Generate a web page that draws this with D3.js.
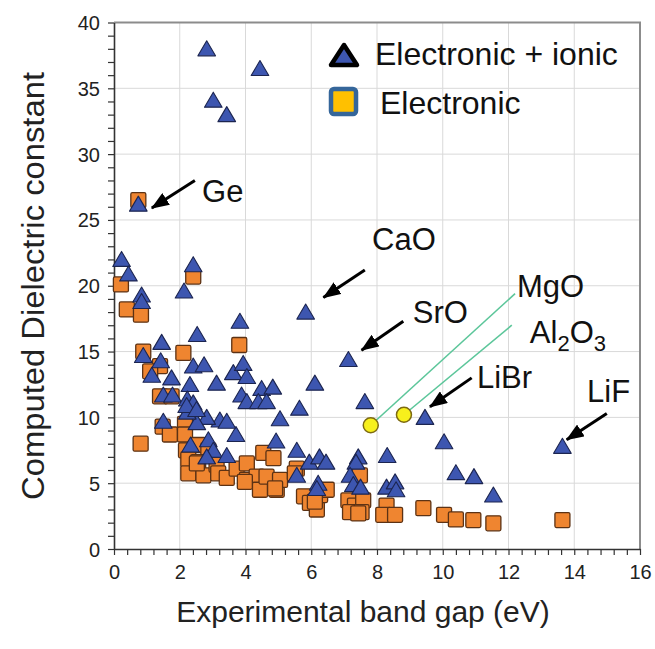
<!DOCTYPE html>
<html><head><meta charset="utf-8">
<script src="https://cdn.jsdelivr.net/npm/d3@7"></script>
<style>html,body{margin:0;padding:0;background:#fff}svg{display:block}</style>
</head><body>
<svg id="c" width="655" height="649"></svg>
<script>
// ---------- data ----------
const xTicks = [0, 2, 4, 6, 8, 10, 12, 14, 16];
const yTicks = [0, 5, 10, 15, 20, 25, 30, 35, 40];
const xLabel = "Experimental band gap (eV)";
const yLabel = "Computed Dielectric constant";
const seriesNames = ["Electronic + ionic", "Electronic"];

// Electronic + ionic (triangles): [band gap, dielectric constant]
const ionicPoints = [
  [2.82,38.0],[4.44,36.5],[3.02,34.1],[3.43,33.0],[0.74,26.2],
  [0.23,22.0],[0.44,20.9],[0.84,19.3],[0.84,18.8],[2.41,21.6],[2.13,19.6],
  [2.53,16.3],[3.83,17.3],[5.83,18.0],[7.13,14.4],[6.11,12.6],[7.63,11.2],[5.64,10.7],
  [1.45,15.7],[0.89,14.7],[1.42,14.3],[1.15,13.2],[1.75,13.0],[2.41,13.9],[2.74,14.0],
  [2.31,12.5],[3.12,12.6],[3.63,13.4],[3.93,14.1],[4.04,13.1],[1.50,11.7],[1.78,11.7],
  [2.23,11.4],[2.41,11.1],[3.88,11.7],[4.04,11.2],[4.49,12.2],[4.83,12.3],[4.39,11.2],[4.64,11.2],
  [5.05,9.9],[4.93,8.2],[3.71,8.7],[3.22,9.8],[3.43,9.7],[2.82,10.0],[2.52,9.6],[2.23,10.4],
  [2.21,10.9],[2.51,10.6],[1.50,9.7],[2.33,7.9],[2.87,8.3],[3.02,7.5],[2.82,7.0],[3.43,7.1],
  [5.56,7.5],[5.94,6.6],[6.25,7.0],[6.45,6.6],[5.56,5.6],[6.21,5.0],[6.17,4.6],
  [7.43,7.0],[7.36,6.6],[7.18,5.6],[7.28,4.9],[7.50,4.7],[8.31,7.1],[8.29,4.7],[8.55,5.1],[8.58,4.5],
  [9.46,10.0],[10.04,8.15],[10.40,5.8],[10.95,5.5],[11.54,4.1],[13.64,7.8]
];

// Electronic (squares)
const electronicPoints = [
  [0.74,26.5],[0.21,20.1],[0.39,18.2],[0.82,17.8],[2.41,20.7],[3.81,15.5],[0.89,15.0],[2.11,14.9],
  [1.40,13.9],[1.10,13.5],[1.40,11.6],[1.75,11.6],[1.48,9.3],[1.70,8.7],[0.81,8.0],[2.16,9.5],
  [2.19,7.5],[2.16,8.7],[2.56,7.9],[2.87,7.5],[2.26,6.8],[2.56,6.6],
  [2.26,5.75],[2.72,5.6],[2.52,6.5],[3.12,6.4],[3.17,5.75],[3.43,5.4],[3.73,6.1],[4.04,6.5],
  [4.04,5.25],[4.34,5.5],[4.44,4.5],[4.64,5.5],[4.95,4.5],[5.05,5.25],[3.98,5.1],[4.90,4.6],
  [4.54,7.3],[4.85,6.9],[5.56,6.1],[5.50,5.75],[5.78,4.0],[5.96,3.5],[6.17,3.0],[6.27,4.1],[6.47,4.5],[6.11,3.6],
  [7.13,3.7],[7.33,3.3],[7.58,3.7],[7.18,2.8],[7.53,2.8],[7.48,5.6],[7.43,2.7],
  [8.29,3.3],[8.19,2.6],[8.55,2.6],[9.41,3.1],[10.04,2.6],[10.40,2.25],[10.93,2.2],[11.54,1.95],[13.64,2.2]
];

// highlighted materials (yellow circles)
const highlightNames = ["MgO", "Al2O3"];
const highlightPoints = [[7.81,9.4],[8.82,10.2]];
const highlightLabelPos = [[12.26,19.15],[12.65,15.65]];
const highlightLineStart = [[12.2,19.4],[12.1,17.0]];

// arrow annotations: label, label position, arrow start, arrow tip (data units)
const arrowNames = ["Ge", "CaO", "SrO", "LiBr", "LiF"];
const arrowLabelPos = [[2.68,26.4],[7.85,22.7],[9.09,17.2],[11.04,12.2],[14.39,11.2]];
const arrowFrom = [[2.46,28.0],[7.63,21.2],[8.80,17.3],[10.88,13.0],[14.99,10.3]];
const arrowTo = [[1.15,25.9],[6.37,19.1],[7.53,15.1],[9.61,10.8],[13.77,8.3]];

// ---------- drawing ----------
const W = 655, H = 649;
const M = {left:114, right:15, top:22.5, bottom:100};
const FONT = "'Liberation Sans', Arial, Helvetica, sans-serif";
const svg = d3.select("#c");
const x = d3.scaleLinear().domain([0,16]).range([M.left, W - M.right]);
const y = d3.scaleLinear().domain([0,40]).range([H - M.bottom, M.top]);

// gridlines
const grid = svg.append("g");
grid.selectAll("line.v").data(xTicks.slice(1, -1)).join("line")
  .attr("x1", d => x(d)).attr("x2", d => x(d))
  .attr("y1", y(0)).attr("y2", y(40))
  .attr("stroke", "#d9d9d9").attr("stroke-width", 1);
grid.selectAll("line.h").data(yTicks.slice(1, -1)).join("line")
  .attr("x1", x(0)).attr("x2", x(16))
  .attr("y1", d => y(d)).attr("y2", d => y(d))
  .attr("stroke", "#d9d9d9").attr("stroke-width", 1);

// plot border top/right
svg.append("path")
  .attr("d", `M${x(0)},${y(40)}H${x(16)}V${y(0)}`)
  .attr("fill", "none").attr("stroke", "#8c8c8c").attr("stroke-width", 2);

// axes
const xMinor = d3.range(0, 16.0001, 0.4);
const yMinor = d3.range(0, 40.0001, 1);
const isMajor = (d, step) => Math.abs(d / step - Math.round(d / step)) < 1e-6;

const gx = svg.append("g").attr("transform", `translate(0,${y(0)})`)
  .call(d3.axisBottom(x).tickValues(xMinor).tickSize(6).tickSizeOuter(0)
    .tickFormat(d => isMajor(d, 2) ? String(Math.round(d)) : ""));
const gy = svg.append("g").attr("transform", `translate(${x(0)},0)`)
  .call(d3.axisLeft(y).tickValues(yMinor).tickSize(6).tickSizeOuter(0)
    .tickFormat(d => isMajor(d, 5) ? String(Math.round(d)) : ""));
[gx, gy].forEach(g => {
  g.select(".domain").attr("stroke", "#333").attr("stroke-width", 1.6);
  g.selectAll(".tick line").attr("stroke", "#333").attr("stroke-width", 1.2);
  g.selectAll(".tick text").attr("font-family", FONT).attr("font-size", 20).attr("fill", "#222");
});
gx.selectAll(".tick text").attr("dy", "1.05em").attr("y", 9);
gy.selectAll(".tick text").attr("x", -14).attr("dy", "0.35em");

// axis titles
svg.append("text").attr("x", (x(0) + x(16)) / 2 - 14).attr("y", 622)
  .attr("text-anchor", "middle").attr("font-family", FONT).attr("font-size", 30)
  .attr("fill", "#222").text(xLabel);
svg.append("text").attr("transform", `translate(44,${286}) rotate(-90)`)
  .attr("text-anchor", "middle").attr("font-family", FONT).attr("font-size", 31)
  .attr("textLength", 428).attr("lengthAdjust", "spacingAndGlyphs")
  .attr("fill", "#222").text(yLabel);

// markers
const triPath = "M0,-8 L8.8,7 L-8.8,7 Z";
svg.append("g").selectAll("rect").data(electronicPoints).join("rect")
  .attr("x", d => x(d[0]) - 7.5).attr("y", d => y(d[1]) - 7.5)
  .attr("width", 15).attr("height", 15).attr("rx", 1.5)
  .attr("fill", "#ef8530").attr("stroke", "#5c3214").attr("stroke-width", 1.3);
svg.append("g").selectAll("path").data(ionicPoints).join("path")
  .attr("d", triPath)
  .attr("transform", d => `translate(${x(d[0])},${y(d[1])})`)
  .attr("fill", "#3d56b0").attr("stroke", "#1c2550").attr("stroke-width", 1.1)
  .attr("stroke-linejoin", "round");

// highlighted: green leader lines + yellow circles + labels
svg.append("g").selectAll("line").data(highlightPoints).join("line")
  .attr("x1", (d, i) => x(highlightLineStart[i][0])).attr("y1", (d, i) => y(highlightLineStart[i][1]))
  .attr("x2", d => x(d[0])).attr("y2", d => y(d[1]))
  .attr("stroke", "#5cc69a").attr("stroke-width", 1.6);
svg.append("g").selectAll("circle").data(highlightPoints).join("circle")
  .attr("cx", d => x(d[0])).attr("cy", d => y(d[1])).attr("r", 7.5)
  .attr("fill", "#f7f01c").attr("stroke", "#7d6a12").attr("stroke-width", 1.5);
const hl = svg.append("g").attr("font-family", FONT).attr("font-size", 31).attr("fill", "#111");
hl.append("text").attr("x", x(highlightLabelPos[0][0])).attr("y", y(highlightLabelPos[0][1])).text(highlightNames[0]);
const al = hl.append("text").attr("x", x(highlightLabelPos[1][0])).attr("y", y(highlightLabelPos[1][1]));
al.append("tspan").text("Al");
al.append("tspan").attr("dy", 8).attr("font-size", 22).text("2");
al.append("tspan").attr("dy", -8).text("O");
al.append("tspan").attr("dy", 8).attr("font-size", 22).text("3");

// arrows
svg.append("defs").append("marker")
  .attr("id", "ah").attr("markerUnits", "userSpaceOnUse")
  .attr("viewBox", "0 0 18 14").attr("refX", 17).attr("refY", 7)
  .attr("markerWidth", 18).attr("markerHeight", 14).attr("orient", "auto")
  .append("path").attr("d", "M0,0 L18,7 L0,14 Z").attr("fill", "#000");
svg.append("g").selectAll("line").data(arrowNames).join("line")
  .attr("x1", (d, i) => x(arrowFrom[i][0])).attr("y1", (d, i) => y(arrowFrom[i][1]))
  .attr("x2", (d, i) => x(arrowTo[i][0])).attr("y2", (d, i) => y(arrowTo[i][1]))
  .attr("stroke", "#000").attr("stroke-width", 3).attr("marker-end", "url(#ah)");
svg.append("g").selectAll("text").data(arrowNames).join("text")
  .attr("x", (d, i) => x(arrowLabelPos[i][0])).attr("y", (d, i) => y(arrowLabelPos[i][1]))
  .attr("font-family", FONT).attr("font-size", 31).attr("fill", "#111").text(d => d);

// legend
const lg = svg.append("g");
lg.append("path").attr("d", "M0,-10 L13,10 L-13,10 Z")
  .attr("transform", "translate(344,55)")
  .attr("fill", "#3d56b0").attr("stroke", "#000").attr("stroke-width", 4.5).attr("stroke-linejoin", "round");
lg.append("rect").attr("x", 331).attr("y", 89).attr("width", 25).attr("height", 25).attr("rx", 3)
  .attr("fill", "#ffc000").attr("stroke", "#35669a").attr("stroke-width", 4.5);
lg.append("text").attr("x", 375).attr("y", 65).attr("font-family", FONT).attr("font-size", 32)
  .attr("fill", "#111").text(seriesNames[0]);
lg.append("text").attr("x", 380).attr("y", 114).attr("font-family", FONT).attr("font-size", 32)
  .attr("fill", "#111").text(seriesNames[1]);
</script>
</body></html>
